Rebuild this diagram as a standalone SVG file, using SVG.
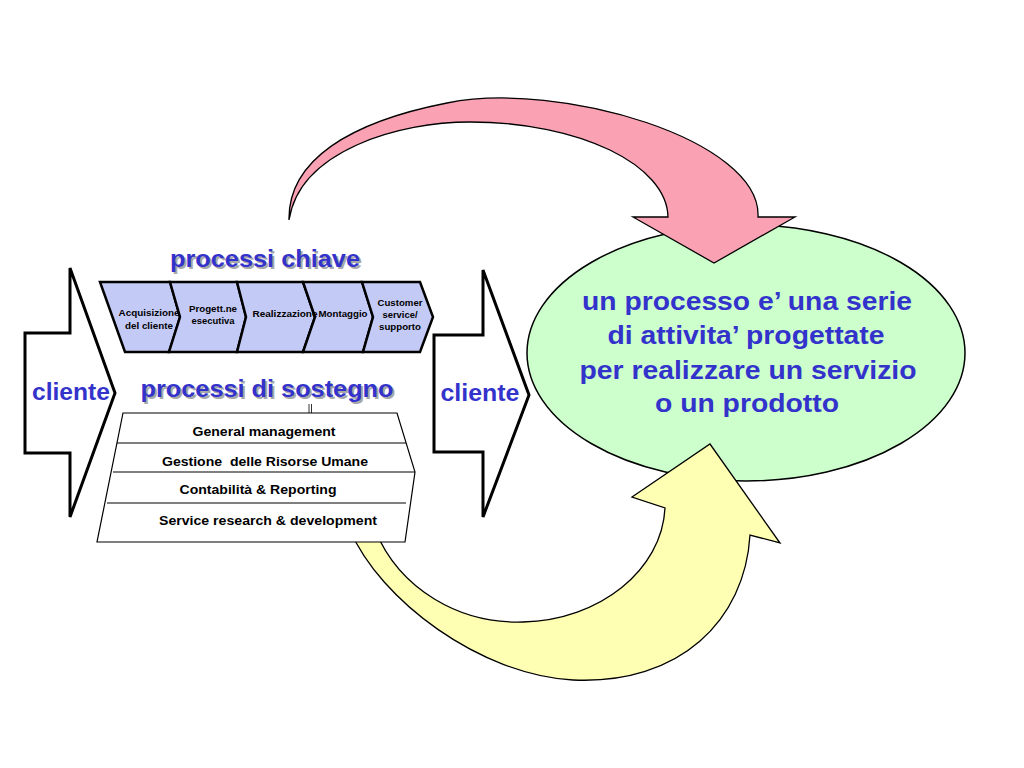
<svg xmlns="http://www.w3.org/2000/svg" width="1024" height="768" viewBox="0 0 1024 768">
<style>
text{font-family:"Liberation Sans",Arial,Helvetica,sans-serif;font-weight:bold;text-anchor:middle;white-space:pre}
.blue{fill:#3333CC}
.shadow{fill:#A8A8A8}
.head{font-size:23px}
.small{font-size:9.5px;fill:#000}
.row{font-size:13px;fill:#000}
.big{font-size:25px}
.chev{fill:#C4CAF6;stroke:#000;stroke-width:2.5;stroke-linejoin:miter}
.cli{fill:#FFF;stroke:#000;stroke-width:3}
</style>
<rect width="1024" height="768" fill="#FFF"/>
<g id="ellipse">
<ellipse cx="746" cy="353" rx="219" ry="128" fill="#CCFFCC" stroke="#000" stroke-width="1.5"/>
<text class="blue big" x="747" y="310" textLength="330" lengthAdjust="spacingAndGlyphs">un processo e’ una serie</text>
<text class="blue big" x="746" y="344" textLength="277" lengthAdjust="spacingAndGlyphs">di attivita’ progettate</text>
<text class="blue big" x="748" y="379" textLength="337" lengthAdjust="spacingAndGlyphs">per realizzare un servizio</text>
<text class="blue big" x="747" y="412" textLength="184" lengthAdjust="spacingAndGlyphs">o un prodotto</text>
</g>
<g id="connectors">
<path id="pink-arrow" d="M289,220 C288,160 350,122 447,103 C560,80 762,140 758,217 L795,217 L714,263 L633,217 L668,217 C667,165 580,122 470,122 C400,122 300,150 289,220 Z" fill="#FAA2B4" stroke="#000" stroke-width="1.3"/>
<path id="yellow-arrow" d="M350,530 C380,600 480,675 573,680 C680,685 745,620 750,535 L780,543 L710,444 L632,497 L665,508 C662,570 600,620 523,622 C460,624 400,590 375,530 Z" fill="#FFFFB3" stroke="#000" stroke-width="1.3"/>
</g>
<g id="cliente-left">
<polygon class="cli" points="25,333 70,333 70,268 115,393 70,517 70,453 25,453"/>
<text class="blue" style="font-size:23px" x="71" y="400" textLength="78" lengthAdjust="spacingAndGlyphs">cliente</text>
</g>
<g id="cliente-right">
<polygon class="cli" points="434,335 483,335 483,270 529,395 483,517 483,452 434,452"/>
<text class="blue" style="font-size:23px" x="480" y="401" textLength="79" lengthAdjust="spacingAndGlyphs">cliente</text>
</g>
<g id="processi-chiave">
<text class="shadow head" x="267" y="269" textLength="190" lengthAdjust="spacingAndGlyphs">processi chiave</text>
<text class="blue head" x="265" y="267" textLength="190" lengthAdjust="spacingAndGlyphs">processi chiave</text>
</g>
<g id="chev1"><polygon class="chev" points="100,282 170,282 180,317 169,352 125,352"/></g>
<g id="chev2"><polygon class="chev" points="170,282 237,282 246,317 237,352 169,352 180,317"/></g>
<g id="chev3"><polygon class="chev" points="237,282 303,282 315,317 303,352 237,352 246,317"/></g>
<g id="chev4"><polygon class="chev" points="303,282 362,282 373,317 363,352 303,352 315,317"/></g>
<g id="chev5"><polygon class="chev" points="362,282 420,282 433,317 420,352 363,352 373,317"/></g>
<g id="chevron-labels">
<text class="small" x="149" y="316" textLength="61" lengthAdjust="spacingAndGlyphs">Acquisizione</text>
<text class="small" x="149" y="329" textLength="48" lengthAdjust="spacingAndGlyphs">del cliente</text>
<text class="small" x="213" y="312" textLength="48" lengthAdjust="spacingAndGlyphs">Progett.ne</text>
<text class="small" x="213" y="324" textLength="43" lengthAdjust="spacingAndGlyphs">esecutiva</text>
<text class="small" x="285" y="317" textLength="65" lengthAdjust="spacingAndGlyphs">Realizzazione</text>
<text class="small" x="343" y="317" textLength="49" lengthAdjust="spacingAndGlyphs">Montaggio</text>
<text class="small" x="400" y="306" textLength="45" lengthAdjust="spacingAndGlyphs">Customer</text>
<text class="small" x="400" y="318" textLength="35" lengthAdjust="spacingAndGlyphs">service/</text>
<text class="small" x="400" y="330" textLength="42" lengthAdjust="spacingAndGlyphs">supporto</text>
</g>
<g id="processi-sostegno">
<text class="shadow head" x="269" y="399" textLength="253" lengthAdjust="spacingAndGlyphs">processi di sostegno</text>
<text class="blue head" x="267" y="397" textLength="253" lengthAdjust="spacingAndGlyphs">processi di sostegno</text>
<line x1="309" y1="404" x2="309" y2="413" stroke="#000" stroke-width="0.8"/>
<line x1="311.5" y1="404" x2="311.5" y2="413" stroke="#000" stroke-width="0.8"/>
</g>
<g id="sostegno-box">
<polygon points="123,413 397,413 415,472 405,542 97,542" fill="#FFF" stroke="#000" stroke-width="1.2"/>
<line x1="117" y1="443" x2="406" y2="443" stroke="#000" stroke-width="1.2"/>
<line x1="113" y1="472" x2="415" y2="472" stroke="#000" stroke-width="1.2"/>
<line x1="107" y1="503" x2="406" y2="503" stroke="#000" stroke-width="1.2"/>
<text class="row" x="264" y="436" textLength="143" lengthAdjust="spacingAndGlyphs">General management</text>
<text class="row" x="265" y="466" textLength="206" lengthAdjust="spacingAndGlyphs">Gestione  delle Risorse Umane</text>
<text class="row" x="258" y="494" textLength="157" lengthAdjust="spacingAndGlyphs">Contabilità &amp; Reporting</text>
<text class="row" x="268" y="525" textLength="218" lengthAdjust="spacingAndGlyphs">Service research &amp; development</text>
</g>
</svg>
